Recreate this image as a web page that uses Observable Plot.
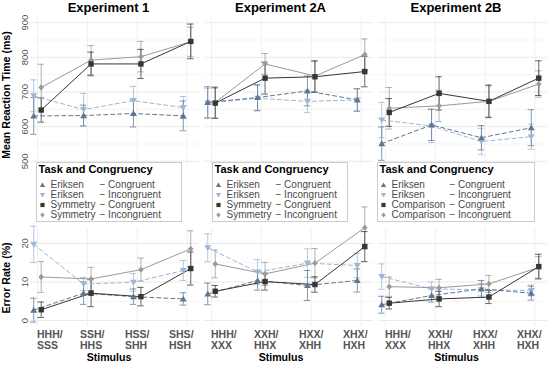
<!DOCTYPE html>
<html><head><meta charset="utf-8">
<script src="https://cdn.jsdelivr.net/npm/d3@7"></script>
<script src="https://cdn.jsdelivr.net/npm/@observablehq/plot@0.6"></script>
<style>
body{margin:0;background:#fff;}
#root{position:relative;width:550px;height:367px;overflow:hidden;background:#fff;font-family:"Liberation Sans",Arial,sans-serif;}
.t{position:absolute;white-space:nowrap;}
.ptitle{font-weight:bold;font-size:13px;line-height:16px;color:#000;transform:translateX(-50%);}
.xtitle{font-weight:bold;font-size:10.6px;line-height:12px;color:#000;transform:translateX(-50%);}
.ytitle{font-weight:bold;font-size:10.6px;line-height:12px;color:#000;transform:translate(-50%,-50%) rotate(-90deg);}
.legend{position:absolute;top:162px;height:60px;box-sizing:border-box;border:1px solid #cccccc;background:#fff;z-index:5;}
.legend .lt{position:absolute;left:1.5px;top:0px;font-weight:bold;font-size:11px;line-height:13px;color:#000;white-space:nowrap;}
.legend .rows{position:absolute;top:16.5px;display:grid;grid-template-columns:9px max-content max-content;column-gap:4px;grid-auto-rows:10px;font-size:10px;line-height:10px;color:#4a4a4a;white-space:nowrap;}
.legend svg{display:block;margin-top:1px;}
</style></head>
<body><div id="root"></div>
<script>
// ---------------- data ----------------
const experiments = ["Experiment 1", "Experiment 2A", "Experiment 2B"];
const stimuliExp1 = ["HHH/SSS", "SSH/HHS", "HSS/SHH", "SHS/HSH"];
const stimuliExp2 = ["HHH/XXX", "XXH/HHX", "HXX/XHH", "XHX/HXH"];
const secondTask = ["Symmetry", "Symmetry", "Comparison"];
const congruency = ["Congruent", "Incongruent"];
const rtTicks = [500, 600, 700, 800, 900];
const erTicks = [0, 10, 20];

// series order: Eriksen-Congruent, Eriksen-Incongruent, Task-Congruent, Task-Incongruent
const rtMean1  = [[631, 632, 638, 631], [689, 649, 675, 655], [648, 781, 781, 846], [713, 792, 802, 845]];
const rtErr1   = [[53, 30, 39, 43], [46, 47, 41, 32], [35, 34, 42, 50], [67, 42, 44, 42]];
const rtMean2A = [[670, 684, 703, 677], [668, 682, 673, 677], [668, 740, 744, 759], [670, 781, 746, 808]];
const rtErr2A  = [[45, 37, 43, 32], [43, 37, 32, 33], [44, 46, 45, 44], [45, 30, 45, 45]];
const rtMean2B = [[551, 605, 568, 597], [619, 602, 557, 571], [641, 696, 673, 740], [653, 660, 673, 723]];
const rtErr2B  = [[48, 45, 35, 52], [51, 48, 38, 36], [40, 48, 47, 50], [60, 45, 45, 38]];

const erMean1  = [[2.7, 7.1, 6.2, 5.6], [19.8, 9.5, 9.9, 13.0], [2.8, 7.1, 6.2, 13.5], [11.3, 10.8, 13.2, 18.6]];
const erErr1   = [[3.1, 2.9, 2.0, 1.6], [4.7, 1.7, 2.3, 2.6], [2.0, 3.5, 2.4, 4.3], [4.0, 3.0, 3.0, 4.7]];
const erMean2A = [[6.9, 10.4, 9.1, 10.4], [18.9, 12.6, 14.9, 14.3], [7.6, 10.1, 9.35, 19.2], [14.7, 12.1, 14.9, 24.1]];
const erErr2A  = [[2.8, 2.5, 3.9, 3.0], [3.6, 3.2, 3.7, 3.2], [1.5, 2.2, 2.0, 3.9], [3.6, 3.0, 3.8, 5.4]];
const erMean2B = [[4.1, 6.5, 8.2, 7.1], [11.4, 8.2, 8.0, 7.8], [4.5, 5.6, 6.1, 14.0], [8.8, 8.5, 9.5, 13.8]];
const erErr2B  = [[2.2, 1.7, 2.2, 1.8], [3.3, 1.8, 1.6, 1.4], [1.5, 2.0, 1.7, 3.2], [2.5, 2.2, 2.2, 2.8]];

// ---------------- styling ----------------
const colors = ["#60768f", "#9db6d8", "#363636", "#9a9a9a"];
const dashes = ["4,3", "4,3", null, null];
const dodge = [-0.075, -0.075, 0.075, 0.075];
const drawOrder = [1, 3, 0, 2];
const shapePts = [
  [[0, -1.0], [1.05, 0.78], [-1.05, 0.78]],
  [[0, 1.0], [1.05, -0.78], [-1.05, -0.78]],
  [[-0.82, -0.82], [0.82, -0.82], [0.82, 0.82], [-0.82, 0.82]],
  [[0, -0.95], [0.85, 0], [0, 0.95], [-0.85, 0]]
];
const shapes = shapePts.map(pts => ({
  draw(ctx, size) {
    const r = Math.sqrt(size / Math.PI);
    ctx.moveTo(pts[0][0] * r, pts[0][1] * r);
    for (let i = 1; i < pts.length; i++) ctx.lineTo(pts[i][0] * r, pts[i][1] * r);
    ctx.closePath();
  }
}));

const root = document.getElementById("root");
const colLeft = [0, 204, 378];
const colML = [30, 0, 0];
const panelW = 169;
const titleX = [108.5, 280.5, 456];
const legendLeft = [36, 212, 377];
const legendW = [146, 136, 158];
const labelDx = [-0.5, -7.3, -12.2, -18];

const rowsCfg = [
  {means: [rtMean1, rtMean2A, rtMean2B], errs: [rtErr1, rtErr2A, rtErr2B], domain: [485, 915],
   top: 0, height: 168, mt: 17, mb: 2, major: rtTicks, minor: [550, 650, 750, 850]},
  {means: [erMean1, erMean2A, erMean2B], errs: [erErr1, erErr2A, erErr2B], domain: [-1.5, 24],
   top: 195, height: 172, mt: 32.6, mb: 41.2, major: erTicks, minor: [5, 15]}
];

function makePanel(row, col) {
  const R = rowsCfg[row];
  const means = R.means[col], errs = R.errs[col];
  const stimuli = col === 0 ? stimuliExp1 : stimuliExp2;
  const data = [];
  means.forEach((series, c) => series.forEach((m, i) =>
    data.push({c, k: i + 1, x: i + 1 + dodge[c], m, lo: m - errs[c][i], hi: m + errs[c][i]})));
  const marks = [
    Plot.gridY(R.minor, {stroke: "#efefef", strokeOpacity: 1, strokeWidth: 0.7}),
    Plot.gridY(R.major, {stroke: "#e3e3e3", strokeOpacity: 1, strokeWidth: 0.8}),
    Plot.gridX([1, 2, 3, 4], {stroke: "#e9e9e9", strokeOpacity: 1, strokeWidth: 0.7})
  ];
  for (const c of drawOrder) {
    const d = data.filter(e => e.c === c);
    marks.push(Plot.ruleX(d, {x: "x", y1: "lo", y2: "hi", stroke: colors[c], strokeWidth: 0.9, strokeOpacity: 0.85}));
    marks.push(Plot.ruleY(d, {y: "hi", x1: e => e.x - 0.065, x2: e => e.x + 0.065, stroke: colors[c], strokeWidth: 0.9, strokeOpacity: 0.85}));
    marks.push(Plot.ruleY(d, {y: "lo", x1: e => e.x - 0.065, x2: e => e.x + 0.065, stroke: colors[c], strokeWidth: 0.9, strokeOpacity: 0.85}));
  }
  for (const c of drawOrder) {
    const d = data.filter(e => e.c === c);
    marks.push(Plot.line(d, {x: "x", y: "m", stroke: colors[c], strokeWidth: 1, strokeDasharray: dashes[c]}));
  }
  for (const c of drawOrder) {
    const d = data.filter(e => e.c === c);
    marks.push(Plot.dot(d, {x: "x", y: "m", r: 3.3, symbol: shapes[c], fill: colors[c], stroke: "none"}));
  }
  if (col === 0) {
    marks.push(Plot.axisY(R.major, {anchor: "left", tickSize: 0, tickPadding: 3, tickRotate: -90,
      fontSize: 9.5, fill: "#555", label: null}));
  }
  if (row === 1) {
    [1, 2, 3, 4].forEach((k, i) => marks.push(Plot.axisX([k], {
      anchor: "bottom", tickSize: 0, tickPadding: 3, label: null,
      tickFormat: v => stimuli[v - 1].replace("/", "/\n"),
      textAnchor: "start", dx: labelDx[i], fontSize: 10.5, fontWeight: "bold", fill: "#555", lineHeight: 1.1
    })));
  }
  const ml = colML[col];
  const width = ml + panelW + 1;
  const svg = Plot.plot({
    width, height: R.height, marginLeft: ml, marginRight: 1, marginTop: R.mt, marginBottom: R.mb,
    x: {type: "linear", domain: [0.86, 4.25], range: [ml, ml + panelW], axis: null},
    y: {domain: R.domain, range: [R.height - R.mb, R.mt], axis: null},
    style: {background: "transparent", overflow: "visible", fontFamily: "Liberation Sans, Arial, sans-serif"},
    marks
  });
  svg.style.position = "absolute";
  svg.style.left = colLeft[col] + "px";
  svg.style.top = R.top + "px";
  root.appendChild(svg);
}

for (let row = 0; row < 2; row++) for (let col = 0; col < 3; col++) makePanel(row, col);

function addText(cls, text, left, top) {
  const d = document.createElement("div");
  d.className = "t " + cls;
  d.textContent = text;
  d.style.left = left + "px";
  d.style.top = top + "px";
  root.appendChild(d);
  return d;
}

experiments.forEach((e, i) => {
  addText("ptitle", e, titleX[i], 0.3);
  addText("xtitle", "Stimulus", titleX[i] + 0.5, 350.5);
});
addText("ytitle", "Mean Reaction Time (ms)", 6.3, 95);
addText("ytitle", "Error Rate (%)", 6, 277.5);

function symbolSvg(c) {
  const r = 3;
  const pts = shapePts[c].map(p => `${(p[0] * r * 0.85 + 4.5).toFixed(2)},${(p[1] * r * 0.85 + 4).toFixed(2)}`).join(" ");
  return `<svg width="9" height="8" viewBox="0 0 9 8"><polygon points="${pts}" fill="${colors[c]}"/></svg>`;
}

experiments.forEach((e, i) => {
  const lg = document.createElement("div");
  lg.className = "legend";
  lg.style.left = legendLeft[i] + "px";
  lg.style.width = legendW[i] + "px";
  let html = `<div class="lt">Task and Congruency</div><div class="rows" style="left:0.5px">`;
  const tasks = ["Eriksen", "Eriksen", secondTask[i], secondTask[i]];
  for (let c = 0; c < 4; c++) {
    html += `<div>${symbolSvg(c)}</div><div>${tasks[c]}</div><div>− ${congruency[c % 2]}</div>`;
  }
  html += `</div>`;
  lg.innerHTML = html;
  root.appendChild(lg);
});
</script>
</body></html>
